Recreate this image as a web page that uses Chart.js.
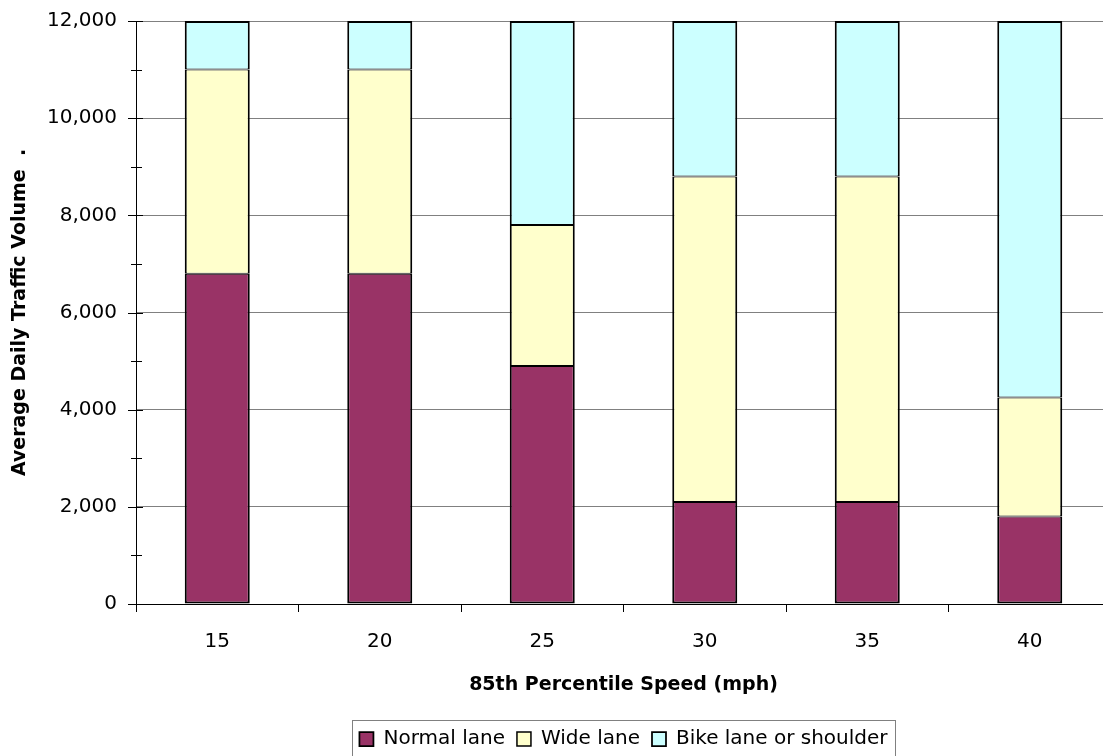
<!DOCTYPE html>
<html>
<head>
<meta charset="utf-8">
<script src="https://cdn.jsdelivr.net/npm/chart.js@4.4.1/dist/chart.umd.min.js"></script>
<style>
    html, body { margin: 0; padding: 0; background: #fff; overflow: hidden; }
</style>
</head>
<body>
<canvas id="chart" width="1112" height="756"></canvas>
<script>
const speeds = ['15', '20', '25', '30', '35', '40'];
const normalLane = [6800, 6800, 4900, 2100, 2100, 1800];
const wideLane = [4200, 4200, 2900, 6700, 6700, 2450];
const bikeLane = [1000, 1000, 4200, 3200, 3200, 7750];
const yMax = 12000;
const yStep = 1000;

// minor/major ticks crossing the y axis + grey frame round the legend
const axisExtras = {
    id: 'axisExtras',
    beforeDraw(chart) {
        // centre the legend under the plot area, not the canvas
        const lg = chart.legend;
        const ca = chart.chartArea;
        const dx = Math.round((ca.left + ca.right) / 2 - (lg.left + lg.right) / 2);
        const dy = 3;
        if (!lg._moved) {
            lg.left += dx; lg.right += dx;
            lg.top += dy; lg.bottom += dy;
            (lg.legendHitBoxes || []).forEach(b => { b.left += dx; b.top += dy; });
            lg._moved = true;
        }
    },
    afterDraw(chart) {
        const ctx = chart.ctx;
        const y = chart.scales.y;
        const left = chart.chartArea.left;
        ctx.save();
        ctx.strokeStyle = '#000';
        ctx.lineWidth = 1;
        for (let v = 0; v <= yMax; v += yStep) {
            const py = Math.round(y.getPixelForValue(v)) + 0.5;
            const major = v % 2000 === 0;
            ctx.beginPath();
            ctx.moveTo(left - (major ? 8 : 5), py);
            ctx.lineTo(left + (major ? 7 : 6), py);
            ctx.stroke();
        }

        const boxes = chart.legend.legendHitBoxes;
        if (boxes && boxes.length) {
            const first = boxes[0];
            const last = boxes[boxes.length - 1];
            const x0 = Math.round(first.left - 7) + 0.5;
            const x1 = Math.round(last.left + last.width + 7) + 0.5;
            const y0 = Math.round(first.top - 9) + 0.5;
            ctx.strokeStyle = '#808080';
            ctx.strokeRect(x0, y0, x1 - x0, 60);
        }
        ctx.restore();
    }
};

const ctx = document.getElementById('chart').getContext('2d');

const segment = (label, data, color, bw) => ({
    label: label,
    data: data,
    backgroundColor: color,
    borderColor: '#000',
    borderWidth: bw,
    borderSkipped: false,
    barPercentage: 0.4,
    categoryPercentage: 1
});

new Chart(ctx, {
    type: 'bar',
    data: {
        labels: speeds,
        datasets: [
            segment('Normal lane', normalLane, '#993366', { top: 1, bottom: 2, left: 2, right: 2 }),
            segment('Wide lane', wideLane, '#FFFFCC', { top: 1, bottom: 1, left: 2, right: 2 }),
            segment('Bike lane or shoulder', bikeLane, '#CCFFFF', { top: 2, bottom: 1, left: 2, right: 2 })
        ]
    },
    options: {
        responsive: false,
        animation: false,
        layout: { padding: { top: 21, right: 1, bottom: 0, left: 0 } },
        plugins: {
            tooltip: { enabled: false },
            legend: {
                position: 'bottom',
                labels: {
                    color: '#000',
                    font: { family: 'DejaVu Sans', size: 20 },
                    boxWidth: 14,
                    boxHeight: 14,
                    padding: 12
                }
            }
        },
        scales: {
            x: {
                stacked: true,
                afterFit: scale => { scale.height = 110; },
                border: { color: '#000', width: 1 },
                grid: {
                    offset: true,
                    drawOnChartArea: false,
                    drawTicks: true,
                    tickLength: 8,
                    tickColor: '#000'
                },
                ticks: {
                    color: '#000',
                    font: { family: 'DejaVu Sans', size: 20 },
                    padding: 18,
                    maxRotation: 0
                },
                title: {
                    display: true,
                    text: '85th Percentile Speed (mph)',
                    color: '#000',
                    font: { family: 'DejaVu Sans', size: 19, weight: 'bold' },
                    padding: { top: 0, bottom: 18 }
                }
            },
            y: {
                stacked: true,
                min: 0,
                max: yMax,
                afterFit: scale => {
                    scale.width = 136;
                    scale.paddingTop = 0;
                    scale.paddingBottom = 0;
                },
                border: { color: '#000', width: 1 },
                grid: {
                    drawTicks: false,
                    color: c => (c.tick.value % 2000 === 0 && c.tick.value !== 0) ? '#808080' : 'rgba(0,0,0,0)',
                    lineWidth: 1
                },
                ticks: {
                    stepSize: yStep,
                    color: '#000',
                    font: { family: 'DejaVu Sans', size: 20 },
                    padding: 19,
                    callback: v => v % 2000 === 0 ? v.toLocaleString('en-US') : ''
                },
                title: {
                    display: true,
                    text: 'Average Daily Traffic Volume  .',
                    color: '#000',
                    font: { family: 'DejaVu Sans', size: 19, weight: 'bold' },
                    padding: { top: 9, bottom: 0 }
                }
            }
        }
    },
    plugins: [axisExtras]
});
</script>
</body>
</html>
